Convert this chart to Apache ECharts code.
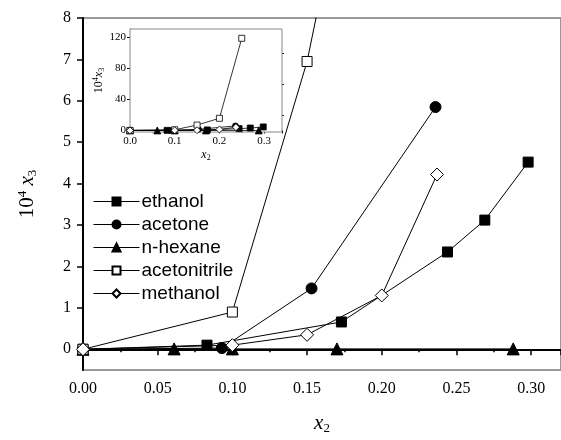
<!DOCTYPE html>
<html>
<head>
<meta charset="utf-8">
<script src="https://cdn.jsdelivr.net/npm/echarts@6/dist/echarts.min.js"></script>
<style>
  html, body { margin: 0; padding: 0; background: #fff; }
  #chart { width: 561px; height: 440px; }
</style>
</head>
<body>
<div id="chart"></div>
<script>
// solvent names (legend)
var solvents = ['ethanol', 'acetone', 'n-hexane', 'acetonitrile', 'methanol'];

// x2 / 10^4 x3 values
var ethanolX = [0, 0.083, 0.173, 0.244, 0.269, 0.298];
var ethanolY = [0, 0.10, 0.66, 2.35, 3.12, 4.52];
var acetoneX = [0, 0.093, 0.153, 0.236];
var acetoneY = [0, 0.03, 1.47, 5.85];
var hexaneX = [0, 0.061, 0.100, 0.170, 0.288];
var hexaneY = [0, 0.01, 0.01, 0.01, 0.01];
var acetonitrileX = [0, 0.10, 0.15, 0.20, 0.25];
var acetonitrileY = [0, 0.90, 6.95, 15.7, 119];
var methanolX = [0, 0.10, 0.15, 0.20, 0.237];
var methanolY = [0, 0.10, 0.35, 1.30, 4.22];

// tick labels
var mainYTicks = [0, 1, 2, 3, 4, 5, 6, 7, 8];
var mainYMinor = [-0.5, 0.5, 1.5, 2.5, 3.5, 4.5, 5.5, 6.5, 7.5];
var insetYTicks = [0, 40, 80, 120];
var insetYMinor = [20, 60, 100];

function pairs(xs, ys) {
  return xs.map(function (x, i) { return [x, ys[i]]; });
}

var chart = echarts.init(document.getElementById('chart'));

var serif = 'Liberation Serif';
var styles = [
  { symbol: 'rect', size: 10, fill: '#000' },
  { symbol: 'circle', size: 11, fill: '#000' },
  { symbol: 'triangle', size: 12, fill: '#000' },
  { symbol: 'rect', size: 10, fill: '#fff' },
  { symbol: 'diamond', size: 13, fill: '#fff' }
];
var sets = [
  pairs(ethanolX, ethanolY),
  pairs(acetoneX, acetoneY),
  pairs(hexaneX, hexaneY),
  pairs(acetonitrileX, acetonitrileY),
  pairs(methanolX, methanolY)
];

var series = [];
solvents.forEach(function (name, i) {
  // main plot
  series.push({
    name: name,
    type: 'line',
    xAxisIndex: 0,
    yAxisIndex: 0,
    data: sets[i],
    symbol: styles[i].symbol,
    symbolSize: styles[i].size,
    lineStyle: { color: '#000', width: 1 },
    itemStyle: { color: styles[i].fill, borderColor: '#000', borderWidth: 1 },
    z: 3
  });
  // inset
  series.push({
    name: name,
    type: 'line',
    xAxisIndex: 1,
    yAxisIndex: 2,
    data: sets[i],
    symbol: styles[i].symbol,
    symbolSize: Math.round(styles[i].size * 0.55),
    lineStyle: { color: '#000', width: 0.8 },
    itemStyle: { color: styles[i].fill, borderColor: '#000', borderWidth: 0.8 },
    z: 5
  });
});

var option = {
  backgroundColor: '#fff',
  animation: false,
  legend: {
    data: solvents,
    orient: 'vertical',
    left: 88,
    top: 185,
    itemWidth: 46,
    itemHeight: 10,
    itemGap: 0,
    lineStyle: { width: 1 },
    textStyle: { fontFamily: 'Liberation Sans', fontSize: 19, color: '#000', lineHeight: 23, padding: [0, 0, 0, -3] }
  },
  grid: [
    { left: 83, right: -2, top: 18, bottom: 69, show: true, borderColor: '#999', borderWidth: 2 },
    { left: 130, right: 279, top: 29, bottom: 308, show: true, borderColor: '#888', borderWidth: 1,
      backgroundColor: '#fff', z: 4 }
  ],
  xAxis: [
    {
      gridIndex: 0, type: 'value', min: 0, max: 0.32, interval: 0.05,
      name: '{i|x}{b|2}', nameLocation: 'middle', nameGap: 42,
      nameTextStyle: {
        rich: {
          i: { fontFamily: serif, fontStyle: 'italic', fontSize: 21, color: '#000' },
          b: { fontFamily: serif, fontSize: 13, color: '#000', padding: [10, 0, 0, 0] }
        }
      },
      axisLine: { show: true, lineStyle: { color: '#000', width: 2 } },
      axisTick: { show: true, inside: false, length: 6, lineStyle: { color: '#000', width: 1.5 } },
      minorTick: { show: true, splitNumber: 2, length: 3, lineStyle: { color: '#000', width: 1.5 } },
      axisLabel: {
        fontFamily: serif, fontSize: 16, color: '#000', margin: 11, showMaxLabel: false,
        formatter: function (v) { return v.toFixed(2); }
      },
      splitLine: { show: false }
    },
    {
      gridIndex: 1, type: 'value', min: 0, max: 0.34, interval: 0.1,
      name: '{i|x}{b|2}', nameLocation: 'middle', nameGap: 16,
      nameTextStyle: {
        rich: {
          i: { fontFamily: serif, fontStyle: 'italic', fontSize: 12, color: '#000' },
          b: { fontFamily: serif, fontSize: 8, color: '#000', padding: [6, 0, 0, 0] }
        }
      },
      axisLine: { show: true, lineStyle: { color: '#000', width: 1 } },
      axisTick: { show: true, length: 3, lineStyle: { color: '#000' } },
      minorTick: { show: true, splitNumber: 2, length: 2, lineStyle: { color: '#000' } },
      axisLabel: {
        fontFamily: serif, fontSize: 11, color: '#000', margin: 4, showMaxLabel: false,
        formatter: function (v) { return v.toFixed(1); }
      },
      splitLine: { show: false }
    }
  ],
  yAxis: [
    {
      gridIndex: 0, type: 'value', min: -0.5, max: 8,
      name: '{n|10}{s|4}{n| }{i|x}{b|3}', nameLocation: 'middle', nameGap: 44, nameRotate: 90,
      nameTextStyle: {
        rich: {
          n: { fontFamily: serif, fontSize: 21, color: '#000' },
          s: { fontFamily: serif, fontSize: 13, color: '#000', padding: [0, 0, 10, 0] },
          i: { fontFamily: serif, fontSize: 21, fontStyle: 'italic', color: '#000' },
          b: { fontFamily: serif, fontSize: 13, color: '#000', padding: [10, 0, 0, 0] }
        }
      },
      axisLine: { show: true, lineStyle: { color: '#000', width: 2 } },
      axisTick: { show: true, length: 6, customValues: mainYTicks, lineStyle: { color: '#000', width: 1.5 } },
      axisLabel: { fontFamily: serif, fontSize: 16, color: '#000', margin: 12, customValues: mainYTicks },
      splitLine: { show: false }
    },
    {
      gridIndex: 0, type: 'value', min: -0.5, max: 8,
      axisLine: { show: false },
      axisTick: { show: true, length: 3, customValues: mainYMinor, lineStyle: { color: '#000', width: 1.5 } },
      axisLabel: { show: false },
      splitLine: { show: false }
    },
    {
      gridIndex: 1, type: 'value', min: -2, max: 131,
      name: '{n|10}{s|4}{i|x}{b|3}', nameLocation: 'middle', nameGap: 22, nameRotate: 90,
      nameTextStyle: {
        rich: {
          n: { fontFamily: serif, fontSize: 12, color: '#000' },
          s: { fontFamily: serif, fontSize: 8, color: '#000', padding: [0, 0, 6, 0] },
          i: { fontFamily: serif, fontSize: 12, fontStyle: 'italic', color: '#000' },
          b: { fontFamily: serif, fontSize: 8, color: '#000', padding: [6, 0, 0, 0] }
        }
      },
      axisLine: { show: true, lineStyle: { color: '#000', width: 1 } },
      axisTick: { show: true, length: 3, customValues: insetYTicks, lineStyle: { color: '#000' } },
      axisLabel: { fontFamily: serif, fontSize: 11, color: '#000', margin: 4, customValues: insetYTicks },
      splitLine: { show: false }
    },
    {
      gridIndex: 1, type: 'value', min: -2, max: 131,
      axisLine: { show: false },
      axisTick: { show: true, length: 2, customValues: insetYMinor, lineStyle: { color: '#000' } },
      axisLabel: { show: false },
      splitLine: { show: false }
    }
  ],
  series: series
};

chart.setOption(option);
</script>
</body>
</html>
